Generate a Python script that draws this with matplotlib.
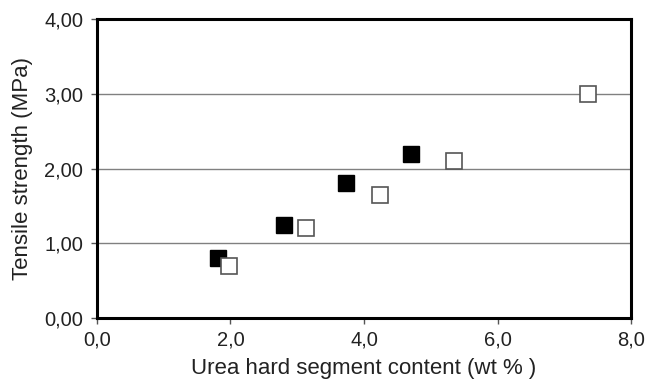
import matplotlib
matplotlib.use("Agg")
import matplotlib.pyplot as plt
from matplotlib.ticker import FuncFormatter

plt.rcParams['font.family'] = ['Liberation Sans', 'DejaVu Sans']

filled_x = [1.82, 2.80, 3.73, 4.70]
filled_y = [0.80, 1.24, 1.80, 2.19]
open_x = [1.98, 3.13, 4.24, 5.34, 7.35]
open_y = [0.70, 1.20, 1.65, 2.10, 3.00]
x_ticks = [0, 2, 4, 6, 8]
y_ticks = [0, 1, 2, 3, 4]

fig = plt.figure(figsize=(6.46, 3.8), dpi=100)
ax = fig.add_axes([0.150, 0.163, 0.827, 0.787])

for y in y_ticks[1:-1]:
    ax.axhline(y, color='#808080', lw=1.0, zorder=1)

ax.plot(filled_x, filled_y, 's', ms=12, mfc='black', mec='black', mew=1, zorder=3)
ax.plot(open_x, open_y, 's', ms=12, mfc='white', mec='#555555', mew=1.2, zorder=3)

ax.set_xlim(0, 8)
ax.set_ylim(0, 4)
ax.set_xticks(x_ticks)
ax.set_yticks(y_ticks)
ax.xaxis.set_major_formatter(FuncFormatter(lambda v, p: f"{v:.1f}".replace('.', ',')))
ax.yaxis.set_major_formatter(FuncFormatter(lambda v, p: f"{v:.2f}".replace('.', ',')))
ax.tick_params(axis='both', direction='out', length=4, width=1, colors='#555555',
               labelcolor='#222222', labelsize=14.5)
ax.tick_params(axis='y', pad=6)
ax.tick_params(axis='x', pad=5)
for s in ax.spines.values():
    s.set_linewidth(2.2)
    s.set_color('black')

ax.set_xlabel('Urea hard segment content (wt % )', fontsize=16, color='#222222', labelpad=6)
ax.set_ylabel('Tensile strength (MPa)', fontsize=16, color='#222222', labelpad=8)

fig.savefig('out.png', dpi=100)
